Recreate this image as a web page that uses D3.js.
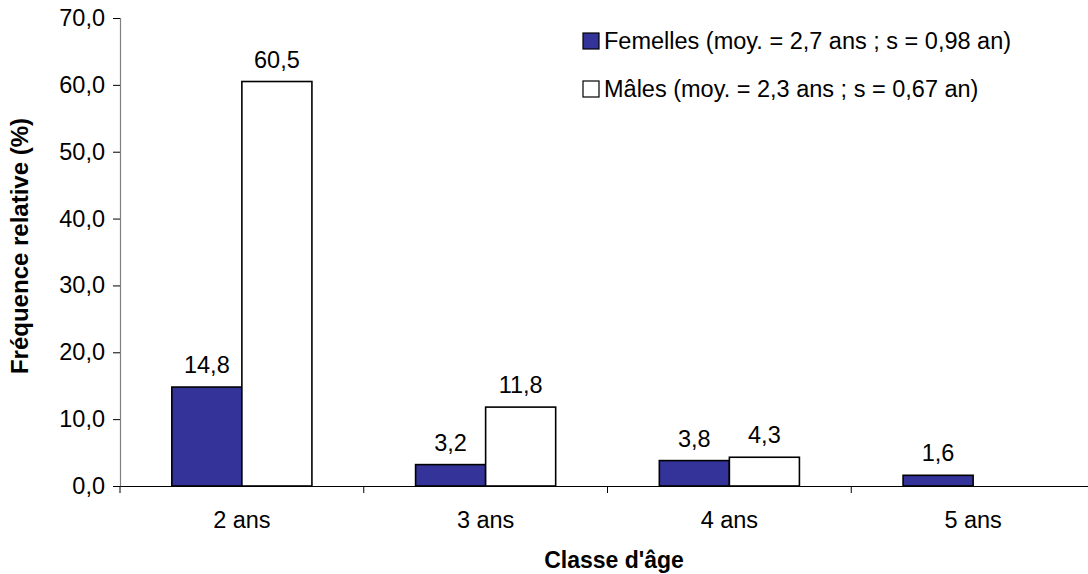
<!DOCTYPE html>
<html>
<head>
<meta charset="utf-8">
<script src="https://cdn.jsdelivr.net/npm/d3@7/dist/d3.min.js"></script>
<style>
  html, body { margin: 0; padding: 0; background: #fff; }
  svg { display: block; font-family: "Liberation Sans", Arial, sans-serif; }
</style>
</head>
<body>
<svg id="chart" width="1088" height="574"></svg>
<script>
// Age classes and relative frequencies (%)
const categories = ["2 ans", "3 ans", "4 ans", "5 ans"];
const femelles = [14.8, 3.2, 3.8, 1.6];
const males = [60.5, 11.8, 4.3, null];
const seriesNames = ["Femelles (moy. = 2,7 ans ; s = 0,98 an)", "Mâles (moy. = 2,3 ans ; s = 0,67 an)"];
const yTicks = [0, 10, 20, 30, 40, 50, 60, 70];

const seriesKeys = ["f", "m"];
const seriesValues = { f: femelles, m: males };
const seriesFill = { f: "#333399", m: "#ffffff" };

const svg = d3.select("#chart");
const fmt = v => d3.format(".1f")(v).replace(".", ",");
const fontSize = 23.5;

const plotLeft = 120, plotRight = 1095, plotTop = 18, plotBottom = 486;

const x0 = d3.scaleBand().domain(categories).range([plotLeft, plotRight]).padding(0);
const x1 = d3.scaleBand().domain(seriesKeys).range([0, x0.bandwidth()]).paddingInner(0).paddingOuter(0.74);
const y = d3.scaleLinear().domain([0, 70]).range([plotBottom, plotTop]);

// Y axis
const yAxis = svg.append("g")
  .attr("transform", `translate(${plotLeft},0)`)
  .call(d3.axisLeft(y).tickValues(yTicks).tickSize(7).tickPadding(8).tickFormat(fmt));
yAxis.select(".domain").attr("stroke", "#808080").attr("stroke-width", 1.2);
yAxis.selectAll(".tick line").attr("stroke", "#000");
yAxis.selectAll(".tick text").attr("font-size", fontSize).attr("fill", "#000")
  .attr("font-family", "'Liberation Sans', Arial, sans-serif");

// Bars
const groups = svg.append("g").selectAll("g")
  .data(categories)
  .join("g")
  .attr("transform", d => `translate(${x0(d)},0)`);

const rowsFor = (d, i) => seriesKeys
  .map(k => ({ key: k, value: seriesValues[k][i] }))
  .filter(o => o.value != null);

groups.selectAll("rect")
  .data(rowsFor)
  .join("rect")
  .attr("x", d => x1(d.key))
  .attr("y", d => y(d.value))
  .attr("width", x1.bandwidth())
  .attr("height", d => y(0) - y(d.value))
  .attr("fill", d => seriesFill[d.key])
  .attr("stroke", "#000")
  .attr("stroke-width", 1.6);

groups.selectAll("text.val")
  .data(rowsFor)
  .join("text")
  .attr("class", "val")
  .attr("x", d => x1(d.key) + x1.bandwidth() / 2)
  .attr("y", d => y(d.value) - 14)
  .attr("text-anchor", "middle")
  .attr("font-size", fontSize)
  .text(d => fmt(d.value));

// X axis
const xAxis = svg.append("g")
  .attr("transform", `translate(0,${plotBottom})`)
  .call(d3.axisBottom(x0).tickSize(0).tickPadding(25));
xAxis.select(".domain").attr("stroke", "#000").attr("stroke-width", 1.2);
xAxis.selectAll(".tick text").attr("font-size", fontSize).attr("fill", "#000")
  .attr("font-family", "'Liberation Sans', Arial, sans-serif");

// Category boundary ticks
svg.append("g").selectAll("line")
  .data(categories)
  .join("line")
  .attr("x1", d => x0(d)).attr("x2", d => x0(d))
  .attr("y1", plotBottom).attr("y2", plotBottom + 7)
  .attr("stroke", "#000").attr("stroke-width", 1);

// Axis titles
svg.append("text")
  .attr("x", 614)
  .attr("y", 568)
  .attr("text-anchor", "middle")
  .attr("font-size", 23)
  .attr("font-weight", "bold")
  .text("Classe d'âge");

svg.append("text")
  .attr("transform", "translate(28,246) rotate(-90)")
  .attr("text-anchor", "middle")
  .attr("font-size", 24)
  .attr("font-weight", "bold")
  .text("Fréquence relative (%)");

// Legend
const legend = svg.append("g").attr("transform", "translate(583,0)");
const legendRows = legend.selectAll("g")
  .data(seriesKeys)
  .join("g")
  .attr("transform", (d, i) => `translate(0,${41 + i * 48})`);
legendRows.append("rect")
  .attr("x", 0).attr("y", -8)
  .attr("width", 16).attr("height", 16)
  .attr("fill", d => seriesFill[d])
  .attr("stroke", "#000").attr("stroke-width", 1.2);
legendRows.append("text")
  .attr("x", 21).attr("y", 8)
  .attr("font-size", fontSize)
  .text((d, i) => seriesNames[i]);
</script>
</body>
</html>
